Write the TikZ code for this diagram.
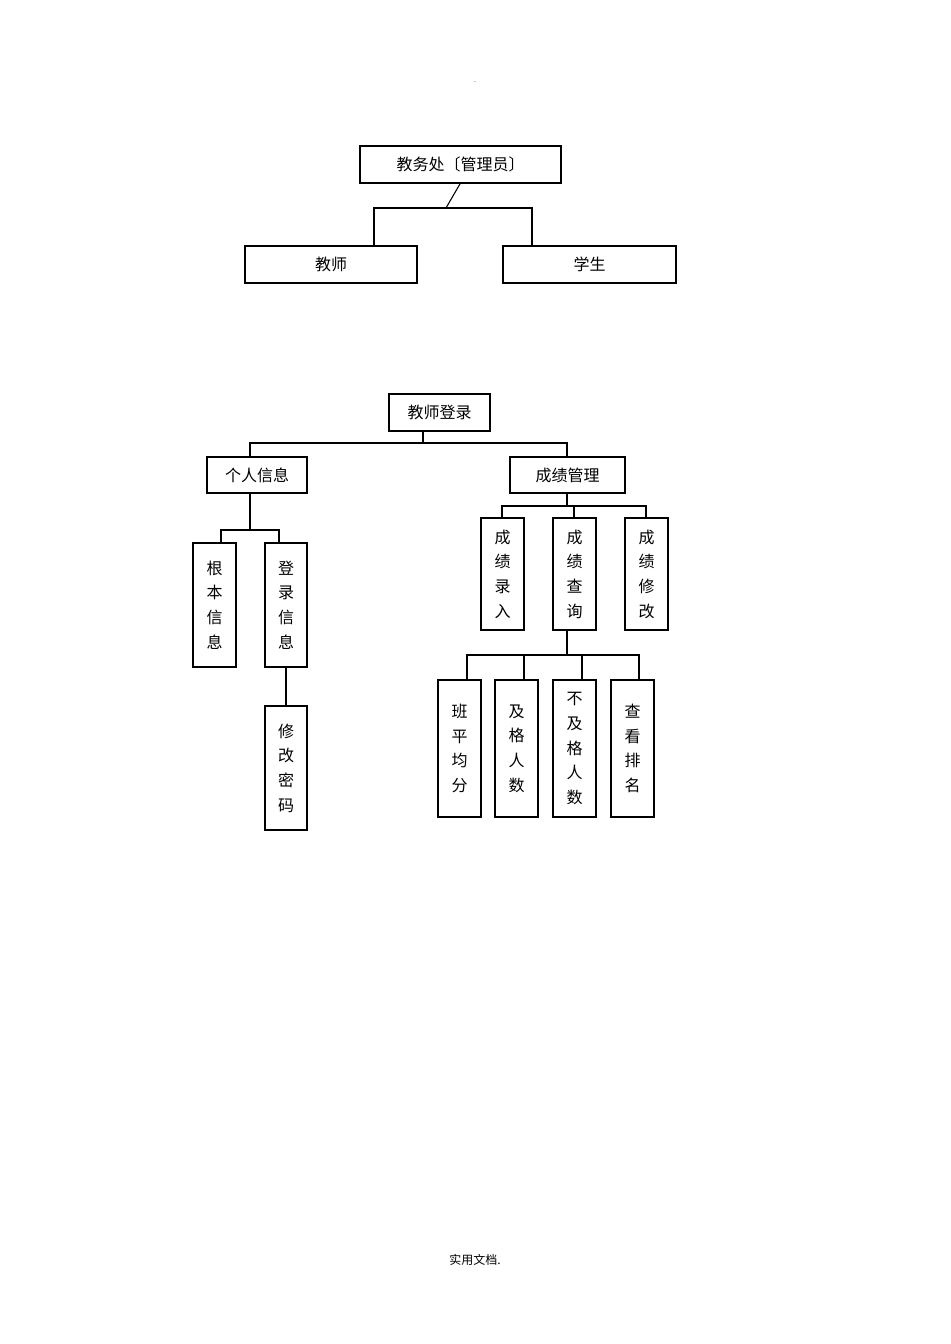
\documentclass[tikz,border=0pt]{standalone}
\usepackage{fontspec}
\newfontfamily\cjk{Noto Sans CJK SC}
\begin{document}
\begin{tikzpicture}[x=0.75pt,y=-0.75pt,font=\cjk\fontsize{12}{18.5}\selectfont,
  bx/.style={draw,line width=0.8pt,inner sep=0pt},
  ln/.style={line width=0.8pt}]
\useasboundingbox (0,0) rectangle (950,1344);
\newcommand\bxx[6]{\draw[bx] (#2,#3) rectangle (#4,#5); \node[align=center] (#1) at ({(#2+#4)/2},{(#3+#5)/2}) {#6};
 \coordinate (#1t) at ({(#2+#4)/2},#3); \coordinate (#1b) at ({(#2+#4)/2},#5);}
\node at (475,82) {\fontsize{5}{5}\selectfont .};
\bxx{adm}{360}{146}{561}{183}{教务处〔管理员〕}
\bxx{js}{245}{246}{417}{283}{教师}
\bxx{xs}{503}{246}{676}{283}{学生}
\draw[ln] (admb) -- (446,208) coordinate (a1);
\draw[ln] (374,246) |- (a1) -| (532,246);
\bxx{jd}{389}{394}{490}{431}{教师登录}
\draw[line width=1.6pt] (490,394) -- (490,431);
\bxx{gr}{207}{457}{307}{493}{个人信息}
\bxx{cj}{510}{457}{625}{493}{成绩管理}
\draw[line width=1.6pt] (625,457) -- (625,493);
\draw[ln] (423,431) -- (423,443);
\draw[ln] (250,457) -- (250,443) -- (567,443) -- (567,457);
\bxx{jb}{193}{543}{236}{667}{根\\本\\信\\息}
\bxx{dl}{265}{543}{307}{667}{登\\录\\信\\息}
\draw[line width=1.6pt] (193,543) -- (193,667) (236,543)--(236,667) (265,543)--(265,667) (307,543)--(307,667);
\draw[line width=1.6pt] (265,667) -- (307,667);
\bxx{xg}{265}{706}{307}{830}{修\\改\\密\\码}
\draw[ln] (250,493) -- (250,530) coordinate (g1);
\draw[ln] (221,543) |- (g1) -| (279,543);
\draw[ln] (286,667) -- (286,706);
\bxx{lr}{481}{518}{524}{630}{成\\绩\\录\\入}
\bxx{cx}{553}{518}{596}{630}{成\\绩\\查\\询}
\bxx{xgg}{625}{518}{668}{630}{成\\绩\\修\\改}
\draw[ln] (567,493) -- (567,506) coordinate (c1);
\draw[ln] (502,518) |- (c1) -| (646,518);
\draw[ln] (574,506) -- (574,518);
\bxx{bp}{438}{680}{481}{817}{班\\平\\均\\分}
\bxx{jg}{495}{680}{538}{817}{及\\格\\人\\数}
\bxx{bj}{553}{680}{596}{817}{不\\及\\格\\人\\数}
\bxx{ck}{611}{680}{654}{817}{查\\看\\排\\名}
\draw[ln] (567,630) -- (567,655) coordinate (q1);
\draw[ln] (467,680) |- (q1) -| (639,680);
\draw[ln] (524,655) -- (524,680) (582,655) -- (582,680);
\node at (475,1260) {\fontsize{9}{9}\selectfont 实用文档.};
\end{tikzpicture}
\end{document}
